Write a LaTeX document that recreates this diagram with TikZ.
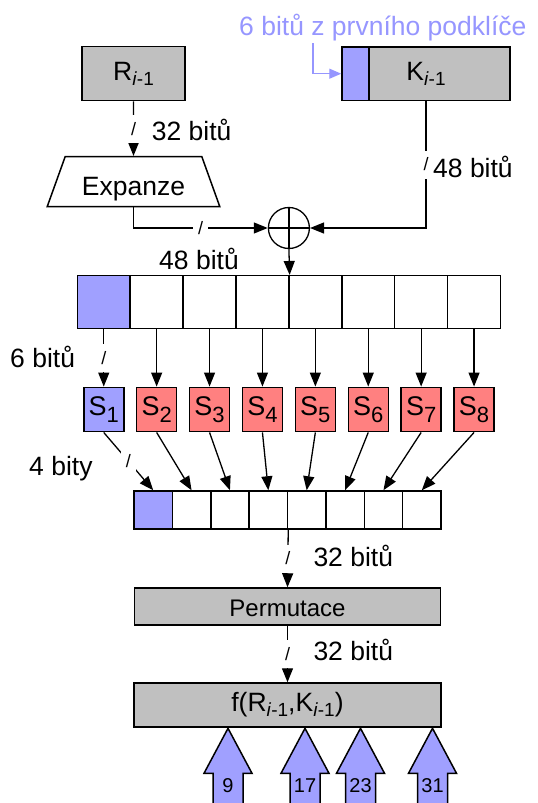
\documentclass[tikz,border=0pt]{standalone}
\usepackage{fontspec}
\setmainfont{Liberation Sans}
\usetikzlibrary{arrows.meta,shapes.geometric}

\definecolor{keyblue}{RGB}{160,160,255}
\definecolor{notetext}{RGB}{150,150,255}
\definecolor{sred}{RGB}{255,128,128}
\definecolor{boxgray}{RGB}{192,192,192}

\newcommand\lbl{\fontsize{26.5}{31}\selectfont}
% index written below the line, e.g. R_{i-1}
\newcommand\subidx[1]{\raisebox{-5pt}{\fontsize{19}{19}\selectfont #1}}
% index of an S-box
\newcommand\sidx[1]{\raisebox{-7pt}{\fontsize{22}{22}\selectfont #1}}

\tikzset{
  wire/.style={line width=1.3pt},
  arr/.style={line width=1.3pt,-{Triangle[length=14pt,width=11pt]}},
  graybox/.style={draw,line width=1.5pt,fill=boxgray,inner sep=0pt,font=\lbl},
  cellw/.style={draw,line width=1.5pt,fill=white,minimum width=52.9pt,minimum height=52.6pt,inner sep=0pt},
  bcell/.style={draw,line width=1.5pt,fill=white,minimum width=38.375pt,minimum height=38pt,inner sep=0pt},
  sbox/.style={draw,line width=1.5pt,minimum width=40pt,minimum height=44.4pt,inner sep=0pt,font=\fontsize{27}{32}\selectfont},
  slashmark/.style={fill=white,inner xsep=5pt,inner ysep=0pt,minimum height=28pt,font=\fontsize{18}{18}\selectfont},
  bits/.style={font=\lbl,inner sep=0pt,anchor=base west},
}

\begin{document}
\begin{tikzpicture}[x=1pt,y=-1pt]
\useasboundingbox (0,0) rectangle (538,803);

% inputs
\node[graybox,minimum width=103.3pt,minimum height=54pt] (R) at (133.5,73.7) {R\subidx{\textit{i}-1}};
\node[graybox,minimum width=168pt,minimum height=53.3pt,
  path picture={
    \fill[keyblue] (path picture bounding box.north west) rectangle ([xshift=27pt]path picture bounding box.south west);
    \draw[line width=1.5pt] ([xshift=27pt]path picture bounding box.north west) -- ([xshift=27pt]path picture bounding box.south west);
  }] (K) at (426,73.7) {K\subidx{\textit{i}-1}};

\node[bits,text=notetext] (note) at (239,35) {6 bitů z prvního podklíče};
\coordinate (notefoot) at (313,43);
\draw[line width=1.3pt,notetext,-{Triangle[length=12pt,width=10pt]}] (notefoot) |- (K.west);

% expansion and key mixing
\node[trapezium,draw,line width=1.5pt,fill=white,trapezium left angle=63,trapezium right angle=63,
  trapezium stretches=true,minimum width=172.7pt,minimum height=50pt,inner sep=0pt,
  text height=26.6pt,text depth=0pt,font=\lbl] (exp) at (133.5,181.7) {Expanze};

\node[circle,draw,line width=1.3pt,minimum size=41pt,inner sep=0pt] (xor) at (288.9,228) {};
\draw[wire] (xor.north) -- (xor.south) (xor.west) -- (xor.east);

\draw[arr] (R.south) -- node[slashmark]{/} (exp.north);
\node[bits] (l32a) at (151.7,140) {32 bitů};

\draw[arr] (exp.south) |- node[pos=0.75,slashmark]{/} (xor.west);
\node[bits,anchor=base] (l48b) at (199,269) {48 bitů};

\draw[arr] (K.south) |- node[pos=0.25,slashmark]{/} (xor.east);
\node[bits] (l48a) at (433,177) {48 bitů};

% 48-bit register split into eight 6-bit groups
\node[cellw,fill=keyblue] (a1) at ({77.3+52.9*0.5},302) {};
\foreach \k in {2,...,8}{
  \node[cellw] (a\k) at ({77.3+52.9*(\k-0.5)},302) {};
}
\draw[arr] (xor.south) -- (a4.north east);

% S-boxes
\node[sbox,fill=keyblue] (s1) at ({77.3+52.9*0.5},409.5) {S\sidx{1}};
\foreach \k in {2,...,8}{
  \node[sbox,fill=sred] (s\k) at ({77.3+52.9*(\k-0.5)},409.5) {S\sidx{\k}};
}
\draw[arr] (a1.south) -- node[slashmark]{/} (s1.north);
\foreach \k in {2,...,8}{
  \draw[arr] (a\k.south) -- (s\k.north);
}
\node[bits] (l6) at (10,367) {6 bitů};

% 32-bit register of S-box outputs
\node[bcell,fill=keyblue] (b1) at ({134+38.375*0.5},510) {};
\foreach \k in {2,...,8}{
  \node[bcell] (b\k) at ({134+38.375*(\k-0.5)},510) {};
}
\draw[arr] (s1.south) -- node[slashmark]{/} (b1.north);
\foreach \k in {2,...,8}{
  \draw[arr] (s\k.south) -- (b\k.north);
}
\node[bits] (l4) at (29,475) {4 bity};

% permutation and result
\node[graybox,minimum width=306pt,minimum height=37pt,font=\fontsize{24}{28}\selectfont,
  text height=20pt,text depth=0pt] (perm) at (287.5,606.5) {Permutace};
\node[graybox,minimum width=307pt,minimum height=44pt] (f) at (287.5,705) {f(R\subidx{\textit{i}-1},K\subidx{\textit{i}-1})};

\draw[arr] (b4.south east) -- node[slashmark]{/} (perm.north);
\node[bits] (l32b) at (313.3,566) {32 bitů};
\draw[arr] (perm.south) -- node[slashmark]{/} (f.north);
\node[bits] (l32c) at (313.3,660) {32 bitů};

% round inputs into the function block
\foreach \cx/\num in {228/9,305/17,360.5/23,432.5/31}{
  \fill[keyblue] ({\cx-15},806) -- ({\cx-15},773.3) -- ({\cx-24},773.3) -- (\cx,728.3)
    -- ({\cx+24},773.3) -- ({\cx+15},773.3) -- ({\cx+15},806) -- cycle;
  \draw[line width=1.5pt,line join=miter] ({\cx-15},806) -- ({\cx-15},773.3) -- ({\cx-24},773.3) -- (\cx,728.3)
    -- ({\cx+24},773.3) -- ({\cx+15},773.3) -- ({\cx+15},806);
  \node[font=\fontsize{20}{20}\selectfont,anchor=base,inner sep=0pt] (in\num) at (\cx,792) {\num};
}
\end{tikzpicture}
\end{document}
